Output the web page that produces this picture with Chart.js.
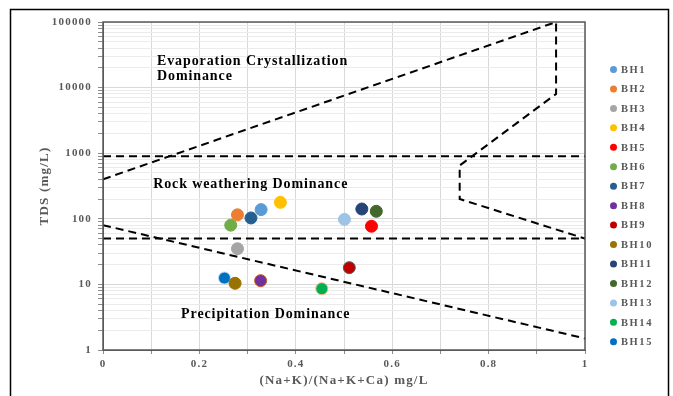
<!DOCTYPE html>
<html>
<head>
<meta charset="utf-8">
<script src="https://cdn.jsdelivr.net/npm/chart.js@4/dist/chart.umd.min.js"></script>
<style>
  html, body { margin: 0; padding: 0; background: #ffffff; }
  #wrap { width: 673px; height: 396px; position: relative; }
</style>
</head>
<body>
<div id="wrap"><canvas id="c" width="673" height="396"></canvas></div>
<script>
// ---- Data ----
const wellLabels = ['BH1','BH2','BH3','BH4','BH5','BH6','BH7','BH8','BH9','BH10','BH11','BH12','BH13','BH14','BH15'];
const ratioValues = [0.328, 0.279, 0.279, 0.368, 0.557, 0.265, 0.307, 0.327, 0.511, 0.274, 0.537, 0.567, 0.501, 0.454, 0.252];
const tdsValues   = [138, 115, 35, 178, 77, 80, 103, 11.4, 18, 10.4, 141, 130, 98, 8.6, 12.5];
const wellColors  = ['#5B9BD5','#ED7D31','#A5A5A5','#FFC000','#FF0000','#70AD47','#255E91','#7030A0','#C00000','#997300','#264478','#43682B','#9DC3E6','#00B050','#0070C0'];
const wellBorders = ['#5B9BD5','#ED7D31','#A5A5A5','#FFC000','#FF0000','#70AD47','#255E91','#C55A11','#595959','#997300','#264478','#43682B','#9DC3E6','#F4B183','#BDD7EE'];

// Gibbs boundary lines
const upperBoundaryX = [0, 0.94, 0.94, 0.74, 0.74, 1];
const upperBoundaryY = [400, 100000, 8000, 650, 200, 50];
const lowerBoundaryX = [0, 1];
const lowerBoundaryY = [80, 1.5];
const upperLevelX = [0, 1];
const upperLevelY = [900, 900];
const lowerLevelX = [0, 1];
const lowerLevelY = [50, 50];

// Tick labels
const xTickLabels = ['0','0.2','0.4','0.6','0.8','1'];
const yTickValues = [1, 10, 100, 1000, 10000, 100000];
const yTickLabels = ['1','10','100','1000','10000','100000'];

// Region labels (data coordinates)
const regionTexts = ['Evaporation Crystallization', 'Dominance', 'Rock weathering Dominance', 'Precipitation Dominance'];
const regionX = [0.112, 0.112, 0.104, 0.162];
const regionY = [25000, 15000, 340, 3.5];

const SERIF = '"Liberation Serif", "Times New Roman", serif';

function pts(xs, ys) { return xs.map((x, i) => ({x: x, y: ys[i]})); }

const datasets = [];
wellLabels.forEach((lab, i) => {
  datasets.push({
    label: lab,
    data: [{x: ratioValues[i], y: tdsValues[i]}],
    backgroundColor: wellColors[i],
    borderColor: wellBorders[i],
    borderWidth: 1,
    pointRadius: 6,
    pointHoverRadius: 6,
    order: 0
  });
});
const lineStyle = {
  showLine: true, pointRadius: 0, borderColor: '#000000', borderWidth: 2,
  borderDash: [8, 5], fill: false, order: 10, tension: 0, isBoundary: true
};
datasets.push(Object.assign({label: 'upper', data: pts(upperBoundaryX, upperBoundaryY)}, lineStyle));
datasets.push(Object.assign({label: 'lower', data: pts(lowerBoundaryX, lowerBoundaryY)}, lineStyle));
datasets.push(Object.assign({label: 'level900', data: pts(upperLevelX, upperLevelY)}, lineStyle));
datasets.push(Object.assign({label: 'level50', data: pts(lowerLevelX, lowerLevelY)}, lineStyle));

const decorPlugin = {
  id: 'decor',
  beforeDraw(chart) {
    const ctx = chart.ctx;
    ctx.save();
    ctx.fillStyle = '#ffffff';
    ctx.fillRect(0, 0, chart.width, chart.height);
    ctx.restore();
    try { ctx.letterSpacing = '1.2px'; } catch (e) {}
  },
  afterDatasetsDraw(chart) {
    const ctx = chart.ctx;
    const a = chart.chartArea;
    const xs = chart.scales.x, ys = chart.scales.y;
    // plot border
    ctx.save();
    ctx.strokeStyle = '#595959';
    ctx.lineWidth = 1.5;
    ctx.strokeRect(a.left, a.top, a.right - a.left, a.bottom - a.top);
    ctx.restore();
    // region texts
    ctx.save();
    try { ctx.letterSpacing = '0.9px'; } catch (e) {}
    ctx.fillStyle = '#000000';
    ctx.font = 'bold 14px ' + SERIF;
    ctx.textAlign = 'left';
    ctx.textBaseline = 'middle';
    regionTexts.forEach((t, i) => {
      ctx.fillText(t, xs.getPixelForValue(regionX[i]), ys.getPixelForValue(regionY[i]));
    });
    ctx.restore();
  },
  afterDraw(chart) {
    const ctx = chart.ctx;
    // legend
    ctx.save();
    try { ctx.letterSpacing = '1.6px'; } catch (e) {}
    ctx.font = 'bold 10.5px ' + SERIF;
    ctx.textAlign = 'left';
    ctx.textBaseline = 'middle';
    let k = 0;
    chart.data.datasets.forEach((ds) => {
      if (ds.isBoundary) return;
      const y = 69.5 + k * 19.45;
      ctx.beginPath();
      ctx.arc(613.5, y, 3.5, 0, Math.PI * 2);
      ctx.fillStyle = ds.backgroundColor;
      ctx.fill();
      ctx.fillStyle = '#595959';
      ctx.fillText(ds.label, 621, y + 0.5);
      k++;
    });
    ctx.restore();
    // outer frame
    ctx.save();
    ctx.strokeStyle = '#000000';
    ctx.lineWidth = 1.5;
    ctx.beginPath();
    ctx.moveTo(10.5, 400);
    ctx.lineTo(10.5, 9.5);
    ctx.lineTo(668.5, 9.5);
    ctx.lineTo(668.5, 400);
    ctx.stroke();
    ctx.restore();
  }
};

new Chart(document.getElementById('c'), {
  type: 'scatter',
  data: { datasets: datasets },
  options: {
    responsive: false,
    animation: false,
    events: [],
    layout: { padding: { left: 37, right: 88, top: 22, bottom: 8 } },
    plugins: { legend: { display: false }, tooltip: { enabled: false } },
    scales: {
      x: {
        type: 'linear', min: 0, max: 1,
        afterFit: (s) => { s.height = 38; },
        border: { display: true, color: '#595959', width: 1 },
        grid: { color: '#d9d9d9', lineWidth: 1, drawTicks: true, tickLength: 4, tickColor: '#8c8c8c' },
        ticks: {
          stepSize: 0.1, autoSkip: false, maxRotation: 0, padding: 4,
          color: '#595959', font: { family: SERIF, size: 11, weight: 'bold' },
          callback: (v) => { const k = Math.round(v * 10); return k % 2 === 0 ? xTickLabels[k / 2] : ''; }
        },
        title: { display: true, text: '(Na+K)/(Na+K+Ca) mg/L', color: '#595959', padding: 0,
                 font: { family: SERIF, size: 13, weight: 'bold' } }
      },
      y: {
        type: 'logarithmic', min: 1, max: 100000,
        afterFit: (s) => { s.width = 66; },
        afterBuildTicks: (s) => {
          const t = [];
          for (let e = 0; e < 5; e++) {
            for (let m = 1; m < 10; m++) t.push({ value: m * Math.pow(10, e) });
          }
          t.push({ value: 100000 });
          s.ticks = t;
        },
        border: { display: true, color: '#595959', width: 1 },
        grid: {
          color: (c) => (yTickValues.indexOf(c.tick && c.tick.value) >= 0 ? '#d9d9d9' : '#ebebeb'),
          lineWidth: 1, drawTicks: true, tickLength: 5, tickColor: '#8c8c8c'
        },
        ticks: {
          autoSkip: false, padding: 6,
          color: '#595959', font: { family: SERIF, size: 11, weight: 'bold' },
          callback: (v) => { const i = yTickValues.indexOf(v); return i >= 0 ? yTickLabels[i] : ''; }
        },
        title: { display: true, text: 'TDS (mg/L)', color: '#595959', padding: 0,
                 font: { family: SERIF, size: 13, weight: 'bold' } }
      }
    }
  },
  plugins: [decorPlugin]
});
</script>
</body>
</html>
